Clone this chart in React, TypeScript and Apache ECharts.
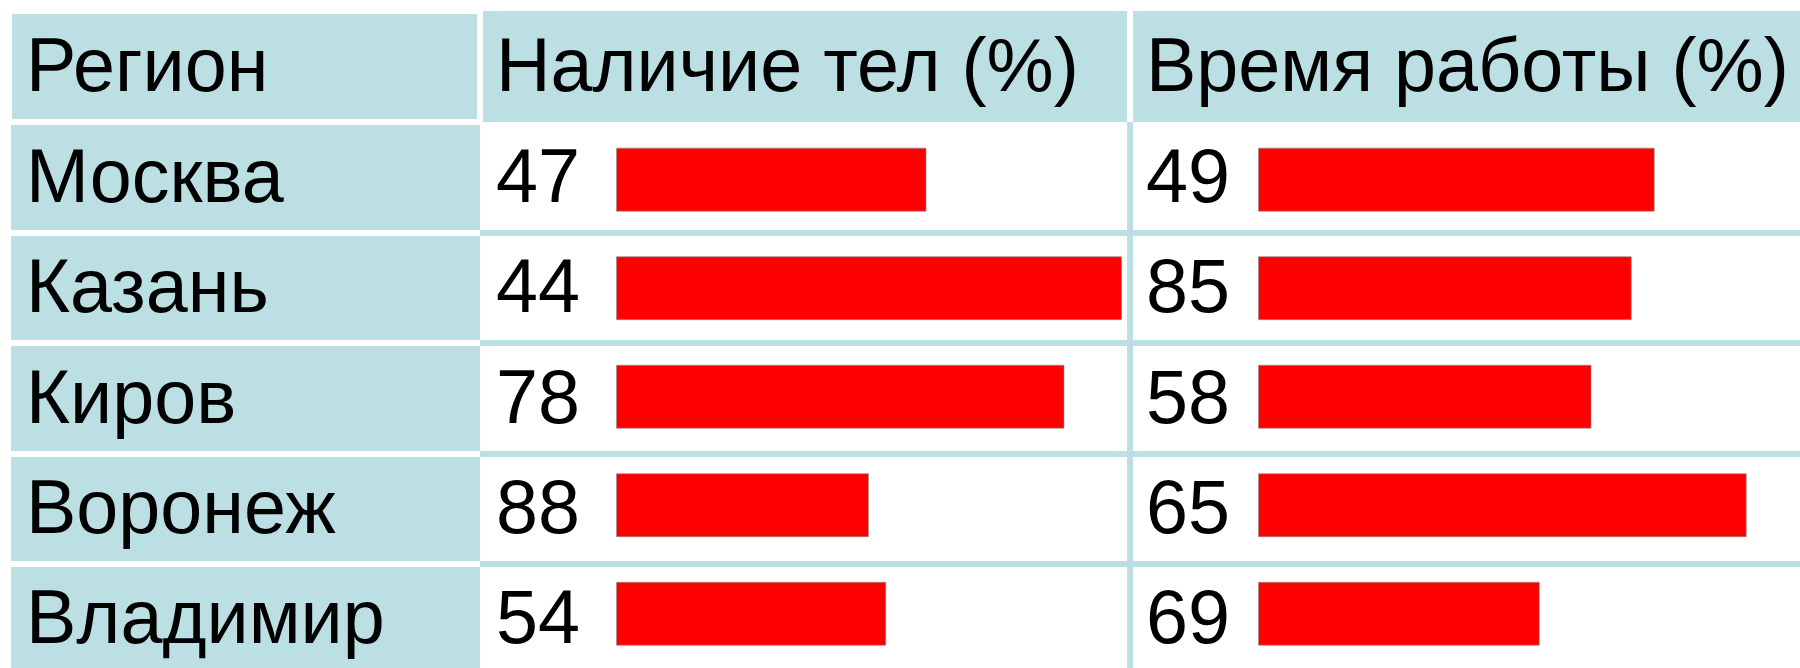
import React, { useEffect, useRef } from 'react';
import * as echarts from 'echarts';

// Table content
const headers = ['Регион', 'Наличие тел (%)', 'Время работы (%)'];
const regions = ['Москва', 'Казань', 'Киров', 'Воронеж', 'Владимир'];
const bodyPresence = [47, 44, 78, 88, 54];
const workTime = [49, 85, 58, 65, 69];
const scaleMax = 100;

const TEAL = '#BBDFE3';
const RED = '#FF0000';
const FONT = '"Liberation Sans", Arial, sans-serif';
const FONT_SIZE = 75.5;

// Layout of the table (pixels)
const W = 1800;
const H = 668;
const CANVAS_W = 1900; // wider drawing surface so the last column's scale is not squeezed
const lineCenters = [233, 343, 454, 564]; // horizontal rules between body rows
const LINE = 6;
const firstRowBaseline = 202.3;
const rowPitch = 110.3;
const headerBaseline = 91.5;
const centralOffset = 26.2; // distance from "central" baseline to alphabetic baseline
const textX = [26, 496, 1146];

function buildGraphics() {
  const g: any[] = [];
  // header cells
  g.push({ type: 'rect', shape: { x: 12, y: 14, width: 465, height: 105 }, style: { fill: TEAL } });
  g.push({ type: 'rect', shape: { x: 483, y: 11, width: 644, height: 111 }, style: { fill: TEAL } });
  g.push({ type: 'rect', shape: { x: 1133, y: 11, width: CANVAS_W - 1133, height: 111 }, style: { fill: TEAL } });
  // first-column body cells
  regions.forEach((_, i) => {
    const top = i === 0 ? 125 : lineCenters[i - 1] + LINE / 2;
    const bottom = i === regions.length - 1 ? H : lineCenters[i] - LINE / 2;
    g.push({ type: 'rect', shape: { x: 11, y: top, width: 469, height: bottom - top }, style: { fill: TEAL } });
  });
  // horizontal rules in the value columns
  lineCenters.forEach((c) => {
    g.push({ type: 'rect', shape: { x: 480, y: c - LINE / 2, width: CANVAS_W - 480, height: LINE }, style: { fill: TEAL } });
  });
  // vertical rule between the value columns
  g.push({ type: 'rect', shape: { x: 1127, y: 122, width: LINE, height: H - 122 }, style: { fill: TEAL } });

  const txt = (x: number, baseline: number, text: string) => ({
    type: 'text',
    z: 10,
    style: {
      x,
      y: baseline - centralOffset,
      text,
      fill: '#000',
      font: `${FONT_SIZE}px ${FONT}`,
      textAlign: 'left',
      textVerticalAlign: 'middle',
    },
  });

  headers.forEach((h, j) => g.push(txt(textX[j], headerBaseline, h)));
  regions.forEach((r, i) => {
    const b = firstRowBaseline + i * rowPitch;
    g.push(txt(textX[0], b, r));
    g.push(txt(textX[1], b, String(bodyPresence[i])));
    g.push(txt(textX[2], b, String(workTime[i])));
  });
  return g;
}

export default function App() {
  const ref = useRef<HTMLDivElement>(null);

  useEffect(() => {
    if (!ref.current) return;
    const chart = echarts.init(ref.current, undefined, { renderer: 'svg' });
    const gridTop = 125.4;
    const gridHeight = 545.5;
    const gridWidth = 575;
    chart.setOption({
      animation: false,
      backgroundColor: '#fff',
      graphic: { elements: buildGraphics() },
      grid: [
        { left: 616, top: gridTop, width: gridWidth, height: gridHeight },
        { left: 1258, top: gridTop, width: gridWidth, height: gridHeight },
      ],
      xAxis: [
        { type: 'value', gridIndex: 0, min: 0, max: scaleMax, show: false },
        { type: 'value', gridIndex: 1, min: 0, max: scaleMax, show: false },
      ],
      yAxis: [
        { type: 'category', gridIndex: 0, data: regions, show: false },
        { type: 'category', gridIndex: 1, data: regions, show: false },
      ],
      series: [
        {
          type: 'bar',
          name: headers[1],
          xAxisIndex: 0,
          yAxisIndex: 0,
          data: bodyPresence,
          barWidth: 64,
          itemStyle: { color: RED, borderColor: 'rgba(140,140,140,0.6)', borderWidth: 1 },
          silent: true,
        },
        {
          type: 'bar',
          name: headers[2],
          xAxisIndex: 1,
          yAxisIndex: 1,
          data: workTime,
          barWidth: 64,
          itemStyle: { color: RED, borderColor: 'rgba(140,140,140,0.6)', borderWidth: 1 },
          silent: true,
        },
      ],
    });
    return () => chart.dispose();
  }, []);

  return (
    <div style={{ position: 'absolute', left: 0, top: 0, width: W, height: H, overflow: 'hidden' }}>
      <div ref={ref} style={{ width: CANVAS_W, height: H }} />
    </div>
  );
}
